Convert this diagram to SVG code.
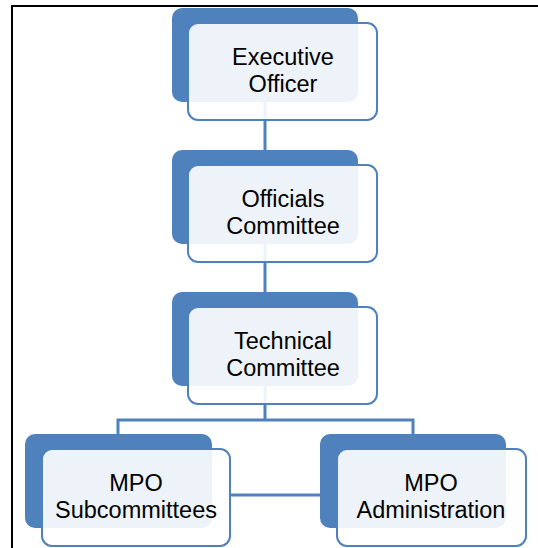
<svg xmlns="http://www.w3.org/2000/svg" width="538" height="548" viewBox="0 0 538 548">
<style>
.back{fill:#4f81bd}
.front{fill:#ffffff;fill-opacity:0.9;stroke:#4f81bd;stroke-width:2}
.lbl{font-family:"Liberation Sans",Arial,sans-serif;font-size:23.5px;fill:#000000;text-anchor:middle}
.conn{fill:none;stroke:#4f81bd;stroke-width:3}
</style>
<rect width="538" height="548" fill="#ffffff"/>
<path d="M12,548 V6 H538" fill="none" stroke="#000" stroke-width="2"/>
<g id="connectors">
<path class="conn" d="M265,100 V152"/>
<path class="conn" d="M265,242 V294"/>
<path class="conn" d="M265,384 V420 M118,435 V420 H413 V435"/>
<path class="conn" d="M228,495 H322"/>
</g>
<g id="executive-officer">
<rect class="back" x="172" y="8" width="186" height="94" rx="10"/>
<rect class="front" x="188" y="23" width="189" height="97" rx="10"/>
<text class="lbl" x="283" y="65">Executive</text>
<text class="lbl" x="283" y="92">Officer</text>
</g>
<g id="officials-committee">
<rect class="back" x="172" y="150" width="186" height="94" rx="10"/>
<rect class="front" x="188" y="165" width="189" height="97" rx="10"/>
<text class="lbl" x="283" y="207">Officials</text>
<text class="lbl" x="283" y="234">Committee</text>
</g>
<g id="technical-committee">
<rect class="back" x="172" y="292" width="186" height="94" rx="10"/>
<rect class="front" x="188" y="307" width="189" height="97" rx="10"/>
<text class="lbl" x="283" y="349">Technical</text>
<text class="lbl" x="283" y="376">Committee</text>
</g>
<g id="mpo-subcommittees">
<rect class="back" x="25" y="434" width="187" height="94" rx="10"/>
<rect class="front" x="42" y="449" width="188" height="97" rx="10"/>
<text class="lbl" x="136" y="491">MPO</text>
<text class="lbl" x="136" y="518">Subcommittees</text>
</g>
<g id="mpo-administration">
<rect class="back" x="320" y="434" width="186" height="94" rx="10"/>
<rect class="front" x="337" y="449" width="189" height="97" rx="10"/>
<text class="lbl" x="431" y="491">MPO</text>
<text class="lbl" x="431" y="518">Administration</text>
</g>
</svg>
